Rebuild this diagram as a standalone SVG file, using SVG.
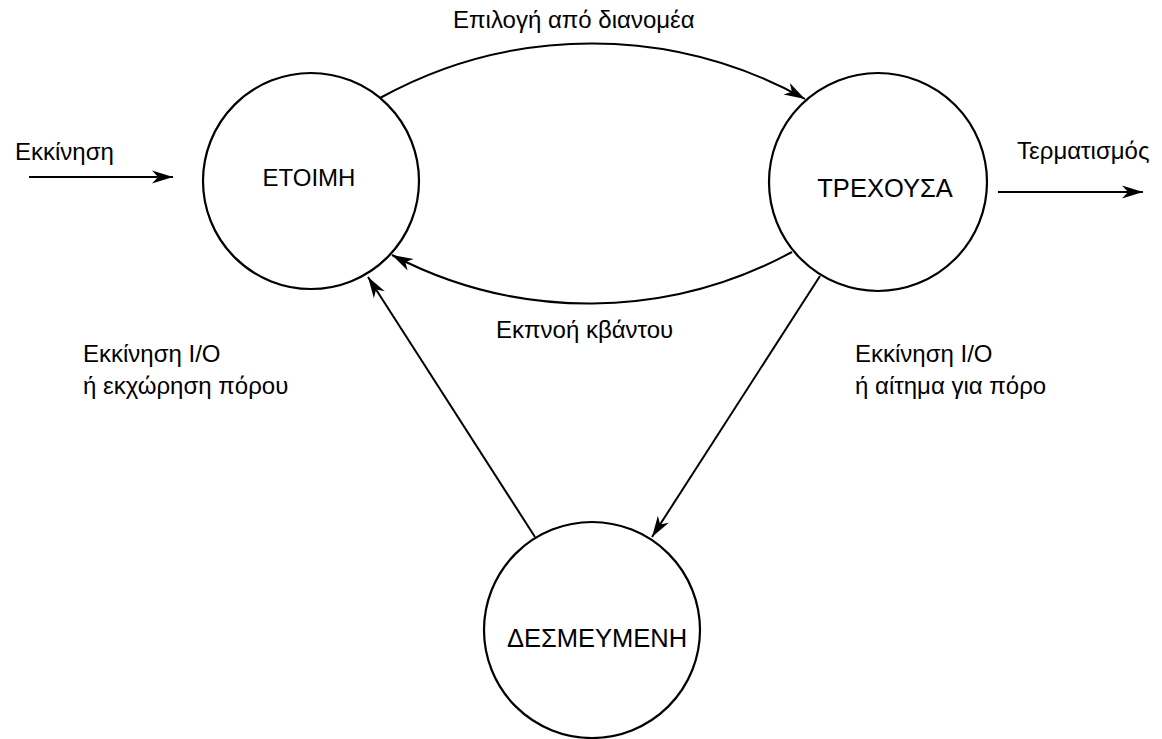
<svg xmlns="http://www.w3.org/2000/svg" width="1162" height="739" viewBox="0 0 1162 739">
  <style>
    .state { fill: #ffffff; stroke: #000000; stroke-width: 2.2; }
    .name { font-family: "Liberation Sans", Arial, sans-serif; font-size: 25.5px; fill: #000000; text-anchor: middle; }
    .label { font-family: "Liberation Sans", Arial, sans-serif; font-size: 24px; fill: #000000; }
    .edge { fill: none; stroke: #000000; stroke-width: 2; marker-end: url(#head); }
  </style>
  <defs>
    <marker id="head" markerUnits="userSpaceOnUse" markerWidth="24" markerHeight="16" viewBox="-22 -8 24 16" refX="0" refY="0" orient="auto">
      <path d="M0,0 L-21,-6.5 L-15,0 L-21,6.5 Z" fill="#000000"/>
    </marker>
  </defs>
  <rect x="0" y="0" width="1162" height="739" fill="#ffffff"/>

  <g id="connectors">
    <line class="edge" x1="29" y1="177" x2="173" y2="177"/>
    <line class="edge" x1="998" y1="192" x2="1143" y2="192"/>
    <path class="edge" d="M380,98 A438,438 0 0 1 805,99"/>
    <path class="edge" d="M792,252 A425,425 0 0 1 392,255"/>
    <line class="edge" x1="820" y1="276" x2="652" y2="537"/>
    <line class="edge" x1="535" y1="537" x2="368" y2="277"/>
  </g>

  <g id="labels">
    <text class="label" x="15" y="160">Εκκίνηση</text>
    <text class="label" x="1017" y="159">Τερματισμός</text>
    <text class="label" x="453" y="28">Επιλογή από διανομέα</text>
    <text class="label" x="496" y="338">Εκπνοή κβάντου</text>
    <text class="label" x="83" y="362">Εκκίνηση I/O</text>
    <text class="label" x="83" y="394">ή εκχώρηση πόρου</text>
    <text class="label" x="855" y="362">Εκκίνηση I/O</text>
    <text class="label" x="855" y="394">ή αίτημα για πόρο</text>
  </g>

  <g id="ready">
    <circle class="state" cx="311" cy="181" r="108"/>
    <text class="name" x="309" y="186" style="font-size:24px">ΕΤΟΙΜΗ</text>
  </g>
  <g id="running">
    <circle class="state" cx="878" cy="182" r="109"/>
    <text class="name" x="885" y="197">ΤΡΕΧΟΥΣΑ</text>
  </g>
  <g id="blocked">
    <circle class="state" cx="592" cy="630" r="108"/>
    <text class="name" x="597" y="647">ΔΕΣΜΕΥΜΕΝΗ</text>
  </g>
</svg>
